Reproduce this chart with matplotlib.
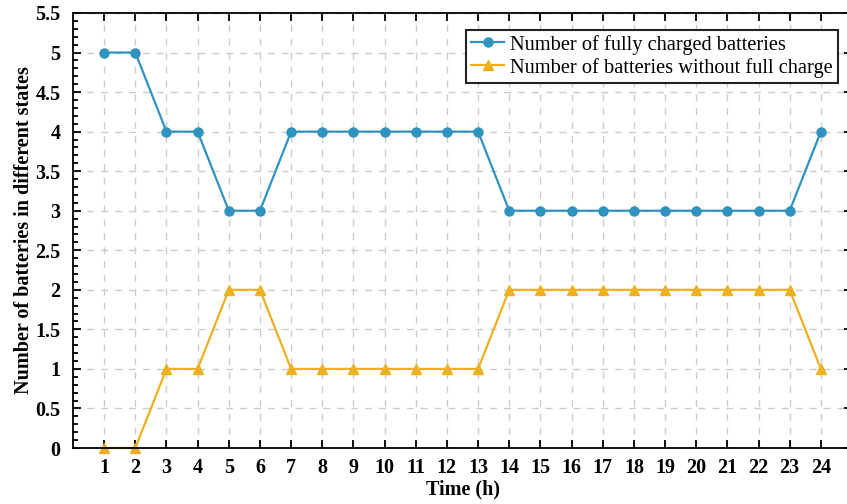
import matplotlib
matplotlib.use('Agg')
import matplotlib.pyplot as plt
from matplotlib.ticker import MultipleLocator, FormatStrFormatter

# data
hours = list(range(1, 25))
full = [5, 5, 4, 4, 3, 3, 4, 4, 4, 4, 4, 4, 4, 3, 3, 3, 3, 3, 3, 3, 3, 3, 3, 4]
not_full = [0, 0, 1, 1, 2, 2, 1, 1, 1, 1, 1, 1, 1, 2, 2, 2, 2, 2, 2, 2, 2, 2, 2, 1]

plt.rcParams['font.family'] = ['Liberation Serif', 'DejaVu Serif']

fig = plt.figure(figsize=(8.47, 5.04), dpi=100)
ax = fig.add_axes([73/847, 56/504, 779/847, 435/504])

ax.plot(hours, full, color='#2f92bf', marker='o', markersize=6.5, linewidth=1.6,
        label='Number of fully charged batteries', clip_on=False, zorder=3)
ax.plot(hours, not_full, color='#edb120', marker='^', markersize=6.5, linewidth=1.6,
        label='Number of batteries without full charge', clip_on=False, zorder=2)

ax.set_xlim(0, 25)
ax.set_ylim(0, 5.5)
ax.set_xticks(hours)
ax.yaxis.set_major_locator(MultipleLocator(0.5))
ax.yaxis.set_minor_locator(MultipleLocator(0.1))
ax.yaxis.set_major_formatter(FormatStrFormatter('%g'))

ax.tick_params(which='both', direction='in', top=True, right=True, width=1.3)
ax.tick_params(which='major', length=6, labelsize=14.5)
ax.tick_params(axis='x', which='major', pad=7)
ax.tick_params(axis='y', which='major', pad=9)
ax.tick_params(which='minor', length=3.5)
for lab in ax.get_xticklabels() + ax.get_yticklabels():
    lab.set_fontweight('bold')
for sp in ax.spines.values():
    sp.set_linewidth(1.3)
    sp.set_zorder(4)

ax.grid(True, which='major', linestyle=(0, (5, 5)), color='#cccccc', linewidth=1)
ax.set_axisbelow(True)

ax.set_xlabel('Time (h)', fontsize=14.5, fontweight='bold', labelpad=1)
ax.set_ylabel('Number of batteries in different states', fontsize=14.5, fontweight='bold', labelpad=1)

leg = ax.legend(loc='upper right', bbox_to_anchor=(0.982, 0.962), fontsize=14.7,
                fancybox=False, framealpha=1, edgecolor='#222222',
                handlelength=1.6, handletextpad=0.3, borderpad=0.25, labelspacing=0.15,
                borderaxespad=0)
leg.get_frame().set_linewidth(1.5)

fig.savefig('out.png', dpi=100)
